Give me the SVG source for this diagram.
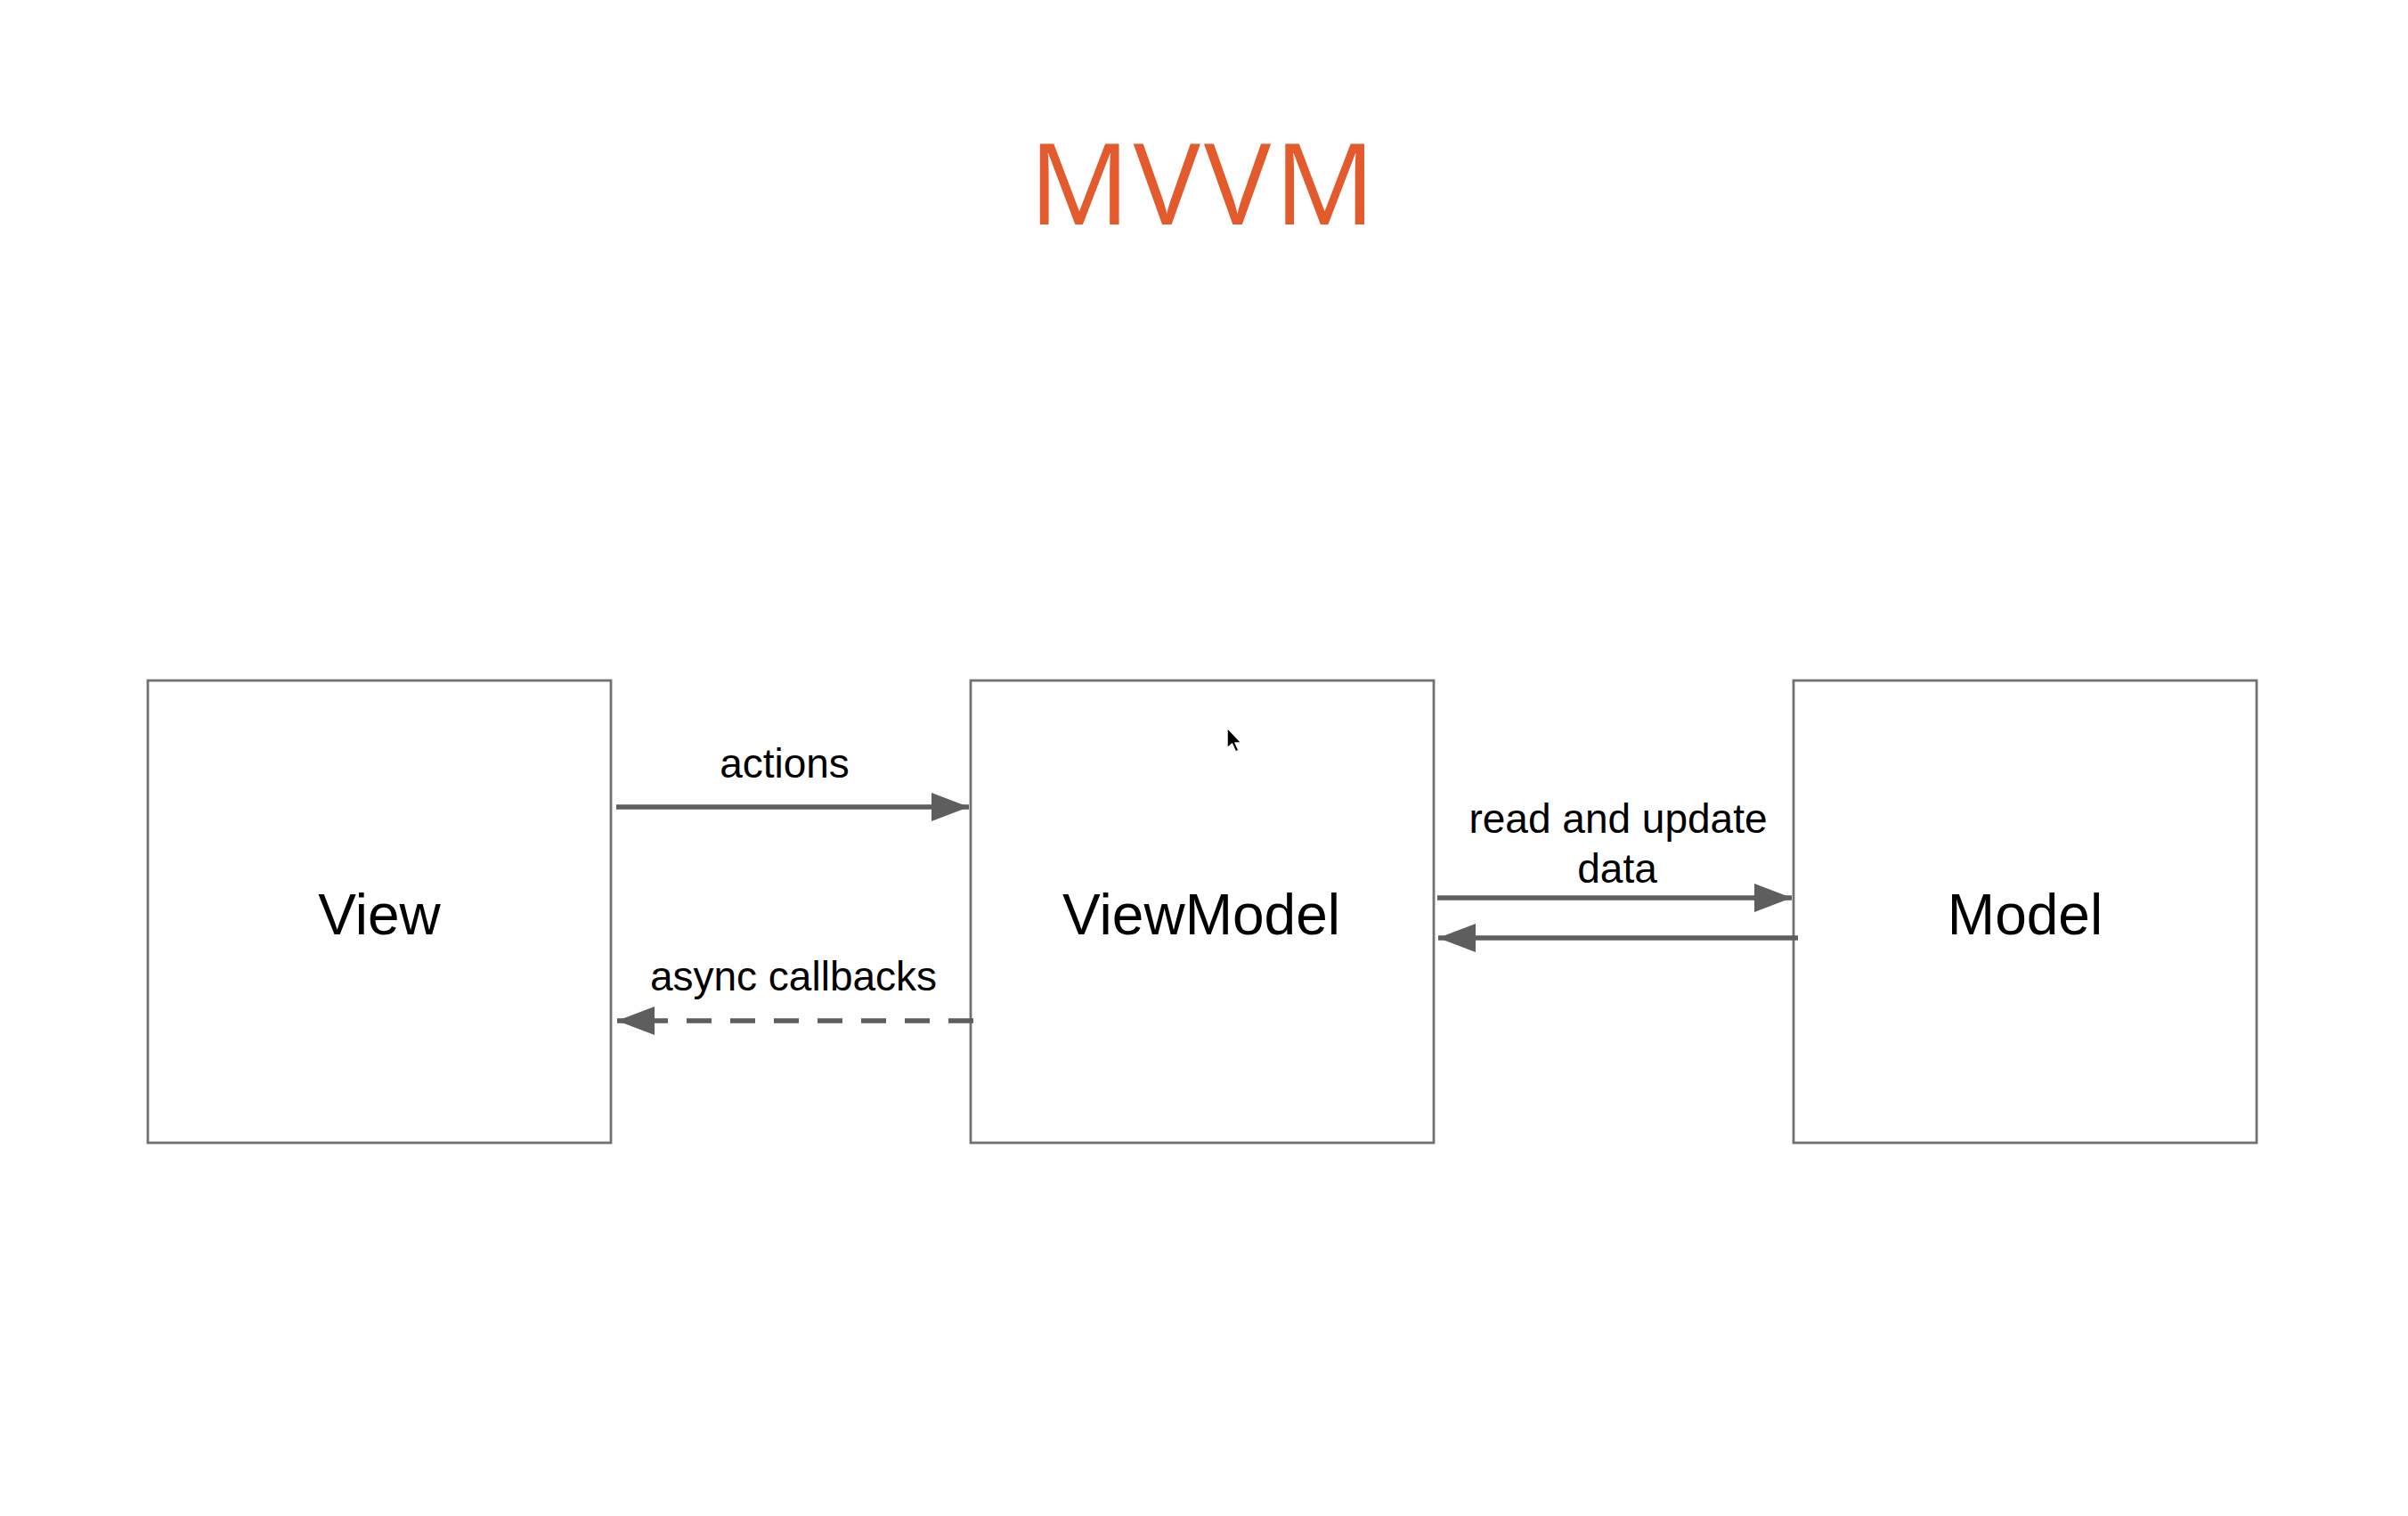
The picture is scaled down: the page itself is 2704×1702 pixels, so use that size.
<svg xmlns="http://www.w3.org/2000/svg" width="2704" height="1702" viewBox="0 0 2704 1702">
  <defs>
    <style>
      .box { fill: #ffffff; stroke: #717171; stroke-width: 2.8; }
      .node-label { font-family: "Liberation Sans", Arial, sans-serif; font-size: 64px; fill: #000000; text-anchor: middle; }
      .edge-label { font-family: "Liberation Sans", Arial, sans-serif; font-size: 46px; fill: #000000; text-anchor: middle; }
      .title { font-family: "Open Sans", "Noto Sans", sans-serif; font-size: 126px; fill: #E35B2D; text-anchor: middle; letter-spacing: 4px; }
      .edge { fill: none; stroke: #5e5e5e; stroke-width: 5.5; marker-end: url(#arrow); }
      .dashed { stroke-dasharray: 28 21; }
    </style>
    <marker id="arrow" markerUnits="userSpaceOnUse" markerWidth="42" markerHeight="32" refX="42" refY="16" orient="auto">
      <path d="M0,0 L42,16 L0,32 Z" fill="#5e5e5e"/>
    </marker>
  </defs>

  <rect x="0" y="0" width="2704" height="1702" fill="#fefefe"/>

  <text class="title" x="1352" y="252">MVVM</text>

  <g id="node-view">
    <rect class="box" x="166" y="764" width="520" height="519"/>
    <text class="node-label" x="426" y="1049">View</text>
  </g>

  <g id="node-viewmodel">
    <rect class="box" x="1090" y="764" width="520" height="519"/>
    <text class="node-label" x="1349" y="1049">ViewModel</text>
  </g>

  <g id="node-model">
    <rect class="box" x="2014" y="764" width="520" height="519"/>
    <text class="node-label" x="2274" y="1049">Model</text>
  </g>

  <g id="connectors">
    <path class="edge" d="M692,906 L1088,906"/>
    <text class="edge-label" x="881" y="873">actions</text>

    <path class="edge dashed" d="M1093,1146 L693,1146"/>
    <text class="edge-label" x="891" y="1112">async callbacks</text>

    <path class="edge" d="M1614,1008 L2012,1008"/>
    <path class="edge" d="M2019,1053 L1615,1053"/>
    <text class="edge-label" x="1817" y="935">read and update</text>
    <text class="edge-label" x="1816" y="991">data</text>
  </g>

  <g id="cursor" transform="translate(1378,817)">
    <path d="M0,0 L0,23 L5.5,18 L9.5,27 L13,25.5 L9,17 L16,17 Z" fill="#000000" stroke="#ffffff" stroke-width="1.5" stroke-linejoin="round"/>
  </g>
</svg>
